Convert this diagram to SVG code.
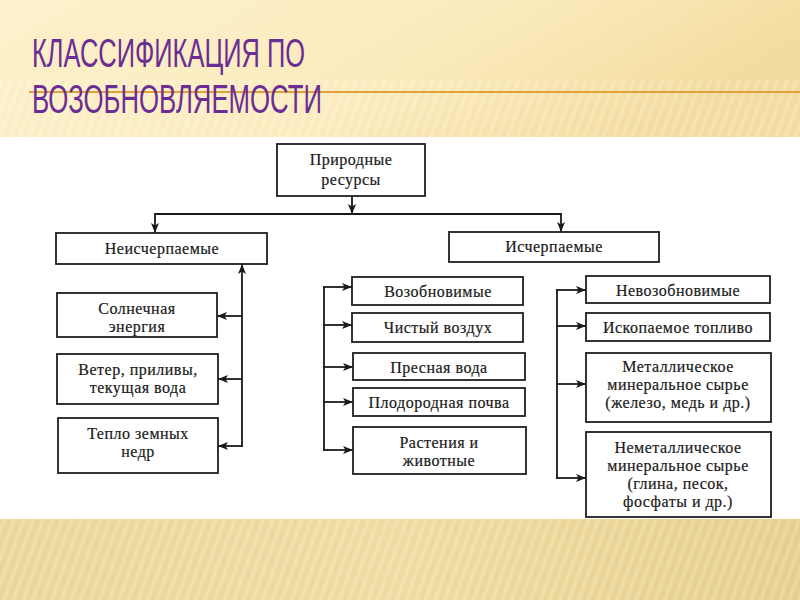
<svg xmlns="http://www.w3.org/2000/svg" width="800" height="600" viewBox="0 0 800 600">
<defs>
<linearGradient id="topg" x1="0" y1="0" x2="1" y2="0.3">
<stop offset="0" stop-color="#fdf1cc"/>
<stop offset="0.6" stop-color="#fbebbd"/>
<stop offset="1" stop-color="#f3dc9f"/>
</linearGradient>
<linearGradient id="botg" x1="0" y1="0" x2="1" y2="0">
<stop offset="0" stop-color="#ebd699"/>
<stop offset="0.5" stop-color="#eedb9f"/>
<stop offset="1" stop-color="#e6cf8c"/>
</linearGradient>
<pattern id="stripes" width="9" height="9" patternUnits="userSpaceOnUse" patternTransform="rotate(20)">
<rect width="4" height="9" fill="#ffffff" opacity="0.18"/>
</pattern>
<marker id="ah" viewBox="0 0 10 8" refX="10" refY="4" markerWidth="10" markerHeight="8" markerUnits="userSpaceOnUse" orient="auto">
<path d="M0,0 L10,4 L0,8 L2.5,4 z" fill="#1a1a1a"/>
</marker>
<style>
.box{fill:#ffffff;stroke:#1e1e1e;stroke-width:1.8}
.t{font-family:"Liberation Serif","Times New Roman",serif;font-size:16px;fill:#1a1a1a;stroke:#1a1a1a;stroke-width:0.2;text-anchor:middle;letter-spacing:0.5px}
.c{fill:none;stroke:#1a1a1a;stroke-width:1.8}
.title{font-family:"Liberation Sans",Arial,sans-serif;font-size:40px;fill:#6b2d94}
</style>
</defs>
<rect x="0" y="0" width="800" height="600" fill="#ffffff"/>
<rect x="0" y="0" width="800" height="137" fill="url(#topg)"/>
<rect x="0" y="80" width="800" height="57" fill="url(#stripes)"/>
<rect x="0" y="519" width="800" height="81" fill="url(#botg)"/>
<rect x="0" y="519" width="800" height="81" fill="url(#stripes)"/>
<line x1="29" y1="92" x2="800" y2="92" stroke="#e2a23a" stroke-width="2"/>
<g id="title">
<text class="title" x="32" y="67" textLength="273" lengthAdjust="spacingAndGlyphs">КЛАССИФИКАЦИЯ ПО</text>
<text class="title" x="32" y="113" textLength="290" lengthAdjust="spacingAndGlyphs">ВОЗОБНОВЛЯЕМОСТИ</text>
</g>
<g id="connectors">
<line class="c" x1="352" y1="196" x2="352" y2="214" marker-end="url(#ah)"/>
<line class="c" x1="155" y1="214" x2="561" y2="214"/>
<line class="c" x1="155" y1="213.1" x2="155" y2="233" marker-end="url(#ah)"/>
<line class="c" x1="561" y1="213.1" x2="561" y2="232" marker-end="url(#ah)"/>
<line class="c" x1="242" y1="446.9" x2="242" y2="264" marker-end="url(#ah)"/>
<line class="c" x1="242.9" y1="316" x2="217" y2="316" marker-end="url(#ah)"/>
<line class="c" x1="242.9" y1="379" x2="218" y2="379" marker-end="url(#ah)"/>
<line class="c" x1="242.9" y1="446" x2="218" y2="446" marker-end="url(#ah)"/>
<line class="c" x1="324" y1="286.1" x2="324" y2="450.9"/>
<line class="c" x1="323.1" y1="287" x2="352" y2="287" marker-end="url(#ah)"/>
<line class="c" x1="323.1" y1="325" x2="352" y2="325" marker-end="url(#ah)"/>
<line class="c" x1="323.1" y1="367" x2="353" y2="367" marker-end="url(#ah)"/>
<line class="c" x1="323.1" y1="402" x2="353" y2="402" marker-end="url(#ah)"/>
<line class="c" x1="323.1" y1="450" x2="353" y2="450" marker-end="url(#ah)"/>
<line class="c" x1="557" y1="289.1" x2="557" y2="478.9"/>
<line class="c" x1="556.1" y1="290" x2="586" y2="290" marker-end="url(#ah)"/>
<line class="c" x1="556.1" y1="326" x2="586" y2="326" marker-end="url(#ah)"/>
<line class="c" x1="556.1" y1="384" x2="586" y2="384" marker-end="url(#ah)"/>
<line class="c" x1="556.1" y1="478" x2="586" y2="478" marker-end="url(#ah)"/>
</g>
<g id="root"><rect class="box" x="277" y="144" width="148" height="52"/><text class="t" x="351" y="165">Природные</text><text class="t" x="351" y="185">ресурсы</text></g>
<g id="nonexhaustible"><rect class="box" x="56" y="233" width="211" height="31"/><text class="t" x="162" y="254">Неисчерпаемые</text></g>
<g id="solar"><rect class="box" x="57" y="293" width="160" height="44"/><text class="t" x="137" y="314">Солнечная</text><text class="t" x="137" y="332">энергия</text></g>
<g id="wind"><rect class="box" x="57" y="354" width="161" height="50"/><text class="t" x="138" y="375">Ветер, приливы,</text><text class="t" x="138" y="393">текущая вода</text></g>
<g id="heat"><rect class="box" x="58" y="418" width="160" height="55"/><text class="t" x="138" y="439">Тепло земных</text><text class="t" x="138" y="457">недр</text></g>
<g id="exhaustible"><rect class="box" x="449" y="232" width="210" height="30"/><text class="t" x="554" y="252">Исчерпаемые</text></g>
<g id="renewable"><rect class="box" x="352" y="277" width="171" height="28"/><text class="t" x="438" y="297">Возобновимые</text></g>
<g id="air"><rect class="box" x="352" y="313" width="171" height="29"/><text class="t" x="438" y="333">Чистый воздух</text></g>
<g id="water"><rect class="box" x="353" y="353" width="172" height="27"/><text class="t" x="439" y="373">Пресная вода</text></g>
<g id="soil"><rect class="box" x="353" y="388" width="172" height="28"/><text class="t" x="439" y="408">Плодородная почва</text></g>
<g id="plants"><rect class="box" x="353" y="427" width="173" height="47"/><text class="t" x="439" y="448">Растения и</text><text class="t" x="439" y="466">животные</text></g>
<g id="nonrenewable"><rect class="box" x="586" y="276" width="184" height="27"/><text class="t" x="678" y="296">Невозобновимые</text></g>
<g id="fuel"><rect class="box" x="586" y="313" width="184" height="28"/><text class="t" x="678" y="333">Ископаемое топливо</text></g>
<g id="metal"><rect class="box" x="586" y="353" width="185" height="69"/><text class="t" x="678" y="372">Металлическое</text><text class="t" x="678" y="390">минеральное сырье</text><text class="t" x="678" y="408">(железо, медь и др.)</text></g>
<g id="nonmetal"><rect class="box" x="586" y="432" width="185" height="85"/><text class="t" x="678" y="453">Неметаллическое</text><text class="t" x="678" y="471">минеральное сырье</text><text class="t" x="678" y="489">(глина, песок,</text><text class="t" x="678" y="507">фосфаты и др.)</text></g>
</svg>
